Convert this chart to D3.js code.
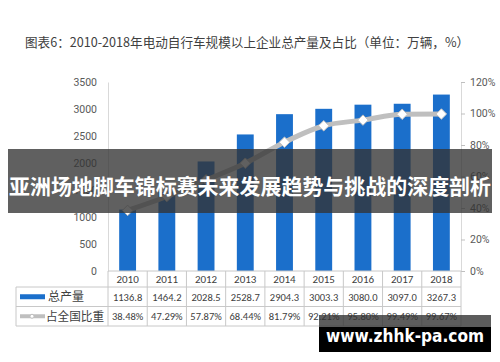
<!DOCTYPE html>
<html>
<head>
<meta charset="utf-8">
<script src="https://cdn.jsdelivr.net/npm/d3@7"></script>
<style>
  body { margin: 0; background: #fff; }
  svg { display: block; font-family: "Noto Sans CJK SC", "Noto Sans", sans-serif; }
</style>
</head>
<body>
<div id="chart"></div>
<script>
const years = ["2010", "2011", "2012", "2013", "2014", "2015", "2016", "2017", "2018"];
const output = [1136.8, 1464.2, 2028.5, 2528.7, 2904.3, 3003.3, 3080.0, 3097.0, 3267.3];
const share = [38.48, 47.29, 57.87, 68.44, 81.79, 92.21, 95.80, 99.49, 99.67];
const leftTicks = [0, 500, 1000, 1500, 2000, 2500, 3000, 3500];
const rightTicks = [0, 20, 40, 60, 80, 100, 120];

const W = 500, H = 362;
const margin = {top: 82, right: 39, bottom: 91, left: 108};
const width = W - margin.left - margin.right;
const height = H - margin.top - margin.bottom;

const svg = d3.select("#chart").append("svg")
    .attr("width", W).attr("height", H);

// title
svg.append("text")
    .attr("x", 25).attr("y", 47)
    .attr("font-size", 12.6).attr("fill", "#404040")
    .text("图表6：2010-2018年电动自行车规模以上企业总产量及占比（单位：万辆，%）");

const g = svg.append("g")
    .attr("transform", "translate(" + margin.left + "," + margin.top + ")");

const x = d3.scaleBand().domain(years).range([0, width]).paddingInner(0.57).paddingOuter(0.285);
const xCell = d3.scaleBand().domain(years).range([0, width]);
const yL = d3.scaleLinear().domain([0, 3500]).range([height, 0]);
const yR = d3.scaleLinear().domain([0, 120]).range([height, 0]);

// left axis
const leftAxis = g.append("g")
    .call(d3.axisLeft(yL).tickValues(leftTicks).tickSize(0).tickPadding(11).tickFormat(d3.format("d")));
leftAxis.select(".domain").attr("stroke", "#d9d9d9");
leftAxis.selectAll("text").attr("font-size", 10.5).attr("fill", "#595959")
    .attr("font-family", "Roboto, sans-serif");

// right axis
const rightAxis = g.append("g")
    .attr("transform", "translate(" + width + ",0)")
    .call(d3.axisRight(yR).tickValues(rightTicks).tickSize(4).tickPadding(5).tickFormat(d => d + "%"));
rightAxis.select(".domain").attr("stroke", "#d9d9d9");
rightAxis.selectAll("line").attr("stroke", "#bfbfbf");
rightAxis.selectAll("text").attr("font-size", 10.5).attr("fill", "#595959")
    .attr("font-family", "Roboto, sans-serif");

// bars
g.selectAll(".bar").data(years)
    .enter().append("rect")
    .attr("class", "bar")
    .attr("x", d => x(d))
    .attr("width", x.bandwidth())
    .attr("y", (d, i) => yL(output[i]))
    .attr("height", (d, i) => height - yL(output[i]))
    .attr("fill", "#1b6fcb");

// line
const line = d3.line()
    .x((d, i) => xCell(years[i]) + xCell.bandwidth() / 2)
    .y(d => yR(d))
    .curve(d3.curveMonotoneX);

g.append("path").datum(share)
    .attr("d", line)
    .attr("fill", "none")
    .attr("stroke", "#bfbfbf")
    .attr("stroke-width", 5);

g.selectAll(".marker").data(share)
    .enter().append("path")
    .attr("class", "marker")
    .attr("transform", (d, i) => "translate(" + (xCell(years[i]) + xCell.bandwidth() / 2) + "," + yR(d) + ")")
    .attr("d", d3.symbol(d3.symbolDiamond2, 70))
    .attr("fill", "#fff")
    .attr("stroke", "#bfbfbf")
    .attr("stroke-width", 1);

// data table
const tbl = svg.append("g").attr("transform", "translate(0," + (margin.top + height) + ")");
const rowH = [16, 19.5, 19.5];
const tLeft = 16;
const borderColor = "#c8c8c8";
const cellFont = "Calibri, Carlito, 'Liberation Sans', sans-serif";

// horizontal lines
tbl.append("line").attr("x1", margin.left).attr("x2", margin.left + width)
    .attr("y1", 0).attr("y2", 0).attr("stroke", borderColor);
[rowH[0], rowH[0] + rowH[1], rowH[0] + rowH[1] + rowH[2]].forEach(yy => {
  tbl.append("line").attr("x1", tLeft).attr("x2", margin.left + width)
      .attr("y1", yy).attr("y2", yy).attr("stroke", borderColor);
});
const tH = rowH[0] + rowH[1] + rowH[2];
// vertical lines
tbl.append("line").attr("x1", tLeft).attr("x2", tLeft).attr("y1", rowH[0]).attr("y2", tH).attr("stroke", borderColor);
years.forEach(yr => {
  const xx = margin.left + xCell(yr);
  tbl.append("line").attr("x1", xx).attr("x2", xx).attr("y1", 0).attr("y2", tH).attr("stroke", borderColor);
});
tbl.append("line").attr("x1", margin.left + width).attr("x2", margin.left + width)
    .attr("y1", 0).attr("y2", tH).attr("stroke", borderColor);

// header
tbl.selectAll(".yr").data(years).enter().append("text")
    .attr("x", d => margin.left + xCell(d) + xCell.bandwidth() / 2)
    .attr("y", rowH[0] / 2 + 4)
    .attr("text-anchor", "middle")
    .attr("font-size", 11).attr("fill", "#404040")
    .attr("font-family", cellFont)
    .text(d => d);

const r1 = rowH[0] + rowH[1] / 2;
const r2 = rowH[0] + rowH[1] + rowH[2] / 2;

tbl.selectAll(".v1").data(output).enter().append("text")
    .attr("x", (d, i) => margin.left + xCell(years[i]) + xCell.bandwidth() / 2)
    .attr("y", r1 + 4)
    .attr("text-anchor", "middle")
    .attr("font-size", 10.5).attr("fill", "#404040")
    .attr("font-family", cellFont)
    .text(d => d.toFixed(1));

tbl.selectAll(".v2").data(share).enter().append("text")
    .attr("x", (d, i) => margin.left + xCell(years[i]) + xCell.bandwidth() / 2)
    .attr("y", r2 + 4)
    .attr("text-anchor", "middle")
    .attr("font-size", 10.5).attr("fill", "#404040")
    .attr("font-family", cellFont)
    .text(d => d.toFixed(2) + "%");

// legend keys in table
tbl.append("rect").attr("x", 20).attr("y", r1 - 2.5).attr("width", 25).attr("height", 5).attr("fill", "#1b6fcb");
tbl.append("text").attr("x", 48).attr("y", r1 + 4.5).attr("font-size", 12).attr("fill", "#404040").text("总产量");
tbl.append("line").attr("x1", 20).attr("x2", 45).attr("y1", r2).attr("y2", r2)
    .attr("stroke", "#bfbfbf").attr("stroke-width", 4);
tbl.append("circle").attr("cx", 32).attr("cy", r2).attr("r", 2).attr("fill", "#fff").attr("stroke", "#bfbfbf");
tbl.append("text").attr("x", 46).attr("y", r2 + 4.5).attr("font-size", 12).attr("fill", "#404040")
    .attr("textLength", 58).attr("lengthAdjust", "spacingAndGlyphs")
    .text("占全国比重");

// overlay banner
svg.append("rect").attr("x", 8).attr("y", 149).attr("width", 484).attr("height", 64)
    .attr("fill", "#333").attr("opacity", 0.78);
svg.append("text").attr("x", 250).attr("y", 194)
    .attr("text-anchor", "middle")
    .attr("font-size", 21).attr("font-weight", "bold").attr("fill", "#fff")
    .attr("textLength", 482).attr("lengthAdjust", "spacingAndGlyphs")
    .text("亚洲场地脚车锦标赛未来发展趋势与挑战的深度剖析");

// site watermark
svg.append("rect").attr("x", 319).attr("y", 315).attr("width", 172).attr("height", 12)
    .attr("fill", "#333").attr("opacity", 0.8);
svg.append("rect").attr("x", 319).attr("y", 327).attr("width", 172).attr("height", 25)
    .attr("fill", "#000");
svg.append("text").attr("x", 405).attr("y", 342)
    .attr("text-anchor", "middle")
    .attr("font-size", 18).attr("font-weight", "bold").attr("fill", "#fff")
    .attr("font-family", "'DejaVu Sans', sans-serif")
    .attr("textLength", 158).attr("lengthAdjust", "spacingAndGlyphs")
    .text("www.zhhk-pa.com");
</script>
</body>
</html>
